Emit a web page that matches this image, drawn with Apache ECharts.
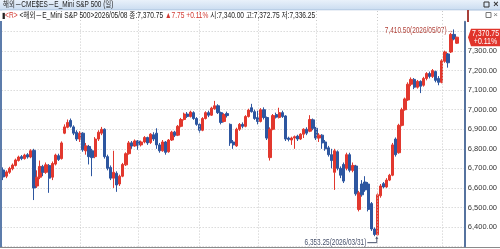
<!DOCTYPE html>
<html><head><meta charset="utf-8">
<script src="https://cdn.jsdelivr.net/npm/echarts@6/dist/echarts.min.js"></script>
<style>html,body{margin:0;padding:0;background:#fff;overflow:hidden}#c{width:500px;height:249px}</style>
</head><body><div id="c"></div>
<script>
const dates = [
'2025/10/06','2025/10/07','2025/10/08','2025/10/09','2025/10/10','2025/10/13','2025/10/14','2025/10/15','2025/10/16','2025/10/17',
'2025/10/20','2025/10/21','2025/10/22','2025/10/23','2025/10/24','2025/10/27','2025/10/28','2025/10/29','2025/10/30','2025/10/31',
'2025/11/03','2025/11/04','2025/11/05','2025/11/06','2025/11/07','2025/11/10','2025/11/11','2025/11/12','2025/11/13','2025/11/14',
'2025/11/17','2025/11/18','2025/11/19','2025/11/20','2025/11/21','2025/11/24','2025/11/25','2025/11/26','2025/11/28',
'2025/12/01','2025/12/02','2025/12/03','2025/12/04','2025/12/05','2025/12/08','2025/12/09','2025/12/10','2025/12/11','2025/12/12',
'2025/12/15','2025/12/16','2025/12/17','2025/12/18','2025/12/19','2025/12/22','2025/12/23','2025/12/24','2025/12/26','2025/12/29','2025/12/30','2025/12/31',
'2026/01/02','2026/01/05','2026/01/06','2026/01/07','2026/01/08','2026/01/09','2026/01/12','2026/01/13','2026/01/14','2026/01/15','2026/01/16',
'2026/01/20','2026/01/21','2026/01/22','2026/01/23','2026/01/26','2026/01/27','2026/01/28','2026/01/29','2026/01/30',
'2026/02/02','2026/02/03','2026/02/04','2026/02/05','2026/02/06','2026/02/09','2026/02/10','2026/02/11','2026/02/12','2026/02/13',
'2026/02/17','2026/02/18','2026/02/19','2026/02/20','2026/02/23','2026/02/24','2026/02/25','2026/02/26','2026/02/27',
'2026/03/02','2026/03/03','2026/03/04','2026/03/05','2026/03/06','2026/03/09','2026/03/10','2026/03/11','2026/03/12','2026/03/13',
'2026/03/16','2026/03/17','2026/03/18','2026/03/19','2026/03/20','2026/03/23','2026/03/24','2026/03/25','2026/03/26','2026/03/27','2026/03/30','2026/03/31',
'2026/04/01','2026/04/02','2026/04/06','2026/04/07','2026/04/08','2026/04/09','2026/04/10','2026/04/13','2026/04/14','2026/04/15',
'2026/04/16','2026/04/17','2026/04/20','2026/04/21','2026/04/22','2026/04/23','2026/04/24','2026/04/27','2026/04/28','2026/04/29','2026/04/30',
'2026/05/01','2026/05/04','2026/05/05','2026/05/06','2026/05/07','2026/05/08'];

const openP = [
6692,6660,6680,6698,6715,6740,6760,6750,6770,6758, 6792,6610,6655,6708,6680,6715,6655,6722,6765,6750,
6880,6910,6945,6912,6885,6850,6880,6790,6812,6790, 6760,6850,6880,6900,6760,6705,6650,6675,6620,6660,
6718,6775,6830,6815,6840,6820,6835,6858,6832,6872, 6880,6820,6790,6835,6785,6845,6885,6870,6915,6950,
6978,6965,6985,6955,6925,6895,6955,6985,6972,7005, 7020,6985,6940,6980,6925,6835,6815,6900,6925,6915,
6965,7010,6990,6960,6940,7000,6960,6755,6900,6975, 6960,6985,6968,6855,6845,6855,6865,6850,6875,6900,
6890,6948,6905,6855,6870,6835,6805,6770,6680,6785, 6700,6720,6700,6770,6690,6712,6490,6620,6630,6620,
6520,6390,6360,6560,6622,6605,6640,6665,6850,6780, 6920,7000,7050,7130,7155,7115,7145,7125,7160,7185,
7170,7195,7160,7140,7248,7285,7295,7385,7340];
const closeP = [
6656,6682,6700,6717,6743,6758,6750,6768,6758,6790, 6600,6655,6710,6680,6718,6650,6725,6768,6745,6830,
6912,6935,6915,6880,6850,6880,6795,6815,6760,6755, 6850,6885,6900,6760,6700,6650,6680,6615,6660,6720,
6775,6830,6815,6840,6820,6835,6858,6830,6875,6850, 6820,6790,6835,6782,6845,6885,6870,6915,6950,6978,
6965,6988,6955,6925,6895,6955,6985,6972,7008,7020, 6985,6935,6975,6970,6830,6820,6900,6925,6915,6965,
6998,6990,6955,6940,7000,6960,6855,6900,6970,6962, 6985,6965,6850,6848,6855,6862,6850,6875,6900,6880,
6950,6905,6855,6870,6830,6800,6770,6740,6790,6700, 6665,6635,6770,6690,6715,6570,6575,6565,6590,6490,
6390,6362,6565,6610,6605,6640,6665,6820,6770,6920, 7000,7055,7130,7155,7115,7145,7120,7160,7185,7170,
7200,7150,7140,7250,7295,7240,7385,7362,7370.75];
const lowP = [
6640,6650,6672,6690,6710,6735,6742,6745,6750,6752, 6538,6600,6645,6660,6672,6575,6640,6715,6738,6745,
6875,6905,6908,6870,6840,6835,6785,6770,6720,6660, 6752,6840,6870,6750,6690,6640,6600,6580,6610,6655,
6712,6770,6800,6810,6795,6812,6828,6820,6825,6840, 6800,6780,6785,6770,6780,6840,6860,6865,6910,6945,
6958,6960,6948,6918,6880,6890,6950,6962,6968,7000, 6978,6925,6935,6960,6815,6800,6810,6892,6905,6910,
6960,6985,6948,6925,6935,6950,6845,6740,6895,6955, 6955,6958,6840,6838,6820,6800,6840,6845,6855,6870,
6885,6895,6845,6835,6800,6790,6760,6700,6590,6690, 6650,6625,6690,6680,6680,6560,6480,6555,6580,6480,
6380,6353.25,6358,6550,6598,6600,6635,6660,6760,6775, 6915,6995,7045,7120,7105,7108,7085,7118,7150,7160,
7162,7140,7125,7135,7240,7215,7290,7355,7336.25];
const highP = [
6705,6690,6708,6725,6750,6765,6768,6775,6778,6798, 6800,6690,6740,6718,6730,6722,6735,6775,6775,6838,
6925,6950,6955,6920,6895,6890,6885,6830,6820,6800, 6860,6895,6912,6905,6770,6715,6790,6685,6668,6728,
6782,6840,6840,6848,6845,6842,6865,6862,6880,6885, 6905,6830,6845,6840,6850,6892,6892,6922,6958,6985,
6988,6995,6992,6962,6932,6962,6992,6995,7015,7045, 7028,6990,6982,6990,6930,6845,6908,6932,6935,6972,
7005,7030,7000,6995,7008,7012,6965,6910,6978,6985, 7010,6995,6972,6862,6862,6868,6872,6880,6905,6910,
6972,6955,6912,6880,6875,6845,6815,6800,6800,6792, 6710,6730,6780,6780,6730,6718,6585,6640,6660,6630,
6528,6398,6572,6620,6630,6650,6672,6830,6858,6928, 7010,7062,7140,7165,7162,7152,7150,7168,7192,7195,
7208,7200,7172,7258,7302,7290,7392,7410.5,7372.75];

const yMin = 6300, yMax = 7450, yStep = 100;
const yLabelRange = [6400, 7300];
const gridLineDates = ['2025/11/10','2025/12/08','2026/01/07','2026/02/04','2026/03/04','2026/04/01','2026/05/01'];
const highMark = { date: '2026/05/07', value: 7410.50 };
const lowMark = { date: '2026/03/31', value: 6353.25 };
const lastQuote = { date: '2026/05/08', close: 7370.75, change: 7.75, pct: 0.11, open: 7340.00, high: 7372.75, low: 7336.25 };
const titleText = '해외－CME$ES－E_Mini S&P 500 (일)';
const itemName = '해외－E_Mini S&P 500';

const UP = '#e2382e', DOWN = '#2d56a0';
const FONT = "'Liberation Sans','Noto Sans CJK KR',sans-serif";
const SQ = 0.76;  // horizontal squeeze for the narrow HTS font
const fmt = v => Number(v).toLocaleString('en-US', { minimumFractionDigits: 2, maximumFractionDigits: 2 });

const cats = dates.concat(['', ' ']);
const kData = dates.map((d, i) => [openP[i], closeP[i], lowP[i], highP[i]]);

const chart = echarts.init(document.getElementById('c'), null, { renderer: 'canvas' });
chart.setOption({
  animation: false,
  backgroundColor: '#ffffff',
  grid: { left: 1.65, right: 32, top: 21.7, bottom: 2.4, containLabel: false },
  xAxis: {
    type: 'category', data: cats, boundaryGap: true,
    axisLine: { show: false }, axisTick: { show: false }, axisLabel: { show: false }, splitLine: { show: false }
  },
  yAxis: {
    type: 'value', position: 'right', min: yMin, max: yMax, interval: yStep, scale: true,
    axisLine: { show: true, lineStyle: { color: '#56739f', width: 2 } },
    axisTick: { show: false },
    axisLabel: {
      margin: 3, fontSize: 7.5, color: '#333', fontFamily: FONT,
      formatter: v => (v >= yLabelRange[0] && v <= yLabelRange[1]) ? fmt(v) : ''
    },
    splitLine: { show: true, lineStyle: { color: '#c9c9c9', type: [1, 2], width: 1 } }
  },
  series: [{
    type: 'candlestick', data: kData, barWidth: 2.8,
    itemStyle: { color: UP, color0: DOWN, borderColor: UP, borderColor0: DOWN, borderWidth: 1 },
    markLine: {
      silent: true, symbol: 'none', animation: false,
      label: { show: false },
      lineStyle: { color: '#c9c9c9', type: [1, 2], width: 1 },
      data: gridLineDates.map(d => ({ xAxis: d }))
    }
  }]
});

const hp = chart.convertToPixel({ seriesIndex: 0 }, [highMark.date, highMark.value]);
const lp = chart.convertToPixel({ seriesIndex: 0 }, [lowMark.date, lowMark.value]);
const cp = chart.convertToPixel({ seriesIndex: 0 }, [lastQuote.date, lastQuote.close]);
const axisX = 468;
const sign = lastQuote.change >= 0 ? '+' : '-';

const headerGridSegs = gridLineDates.map(d => {
  const gx = Math.round(chart.convertToPixel({ xAxisIndex: 0 }, d)) + 0.5;
  return { type: 'line', shape: { x1: gx, y1: 11, x2: gx, y2: 23 }, style: { stroke: '#c9c9c9', lineWidth: 1, lineDash: [1, 2] } };
});

chart.setOption({
  graphic: [
    // header row 1
    { type: 'rect', shape: { x: 0, y: 0, width: 500, height: 10 },
      style: { fill: new echarts.graphic.LinearGradient(0, 0, 0, 1, [{ offset: 0, color: '#e9f1fa' }, { offset: 1, color: '#cadcf0' }]) } },
    { type: 'line', shape: { x1: 0, y1: 10, x2: 500, y2: 10 }, style: { stroke: '#a9c0dc', lineWidth: 1 } },
    { type: 'text', x: 3, y: 5, scaleX: SQ, style: { text: titleText, font: '8.5px ' + FONT, fill: '#1c1c1c', verticalAlign: 'middle' } },
    { type: 'rect', shape: { x: 484, y: 2, width: 5, height: 5 }, style: { fill: 'none', stroke: '#333', lineWidth: 1 } },
    { type: 'text', x: 496, y: 5, style: { text: '×', font: 'bold 9px ' + FONT, fill: '#333', align: 'center', verticalAlign: 'middle' } },
    // header row 2 (white band hides the top boundary grid line)
    { type: 'rect', shape: { x: 2, y: 10.5, width: axisX - 3, height: 12 }, style: { fill: '#ffffff' } },
    ...headerGridSegs,
    { type: 'text', x: 2, y: 15.5, scaleX: 0.78, style: {
        text: '{b|▮}{r|<R>}{k| <' + itemName + '>' + lastQuote.date + ' 종:' + fmt(lastQuote.close) + ' }{r|▲' + lastQuote.change.toFixed(2) + ' ' + sign + lastQuote.pct.toFixed(2) + '%}{k| 시:' + fmt(lastQuote.open) + ' 고:' + fmt(lastQuote.high) + ' 저:' + fmt(lastQuote.low) + '}',
        verticalAlign: 'middle',
        rich: {
          b: { font: '8px ' + FONT, fill: '#222' },
          r: { font: '8.5px ' + FONT, fill: '#d23a32' },
          k: { font: '8.5px ' + FONT, fill: '#222' }
        } } },
    { type: 'line', shape: { x1: axisX, y1: 10, x2: axisX, y2: 22 }, style: { stroke: '#a8403a', lineWidth: 2 } },
    { type: 'rect', shape: { x: 486, y: 12.5, width: 5, height: 5 }, style: { fill: 'none', stroke: '#777', lineWidth: 1 } },
    { type: 'text', x: 495.5, y: 15, style: { text: '×', font: '8px ' + FONT, fill: '#777', align: 'center', verticalAlign: 'middle' } },
    // left border + bottom border
    { type: 'line', shape: { x1: 1, y1: 21, x2: 1, y2: 247 }, style: { stroke: '#5c7cab', lineWidth: 2 } },
    { type: 'line', shape: { x1: 0, y1: 247.5, x2: 500, y2: 247.5 }, style: { stroke: '#8a8a8a', lineWidth: 1 } },
    // high annotation
    { type: 'text', x: hp[0] - 1, y: hp[1] + 1, scaleX: SQ, style: { text: fmt(highMark.value) + '(' + highMark.date + ')→', font: '8.5px ' + FONT, fill: '#b2433b', align: 'right', verticalAlign: 'middle' } },
    // low annotation
    { type: 'text', x: lp[0] - 8, y: lp[1] + 6, scaleX: SQ, style: { text: fmt(lowMark.value) + '(' + lowMark.date + ')', font: '8.5px ' + FONT, fill: '#46506a', align: 'right', verticalAlign: 'middle' } },
    { type: 'polyline', shape: { points: [[lp[0] - 7, lp[1] + 6.5], [lp[0] + 2.5, lp[1] + 6.5], [lp[0] + 2.5, lp[1] + 1]] }, style: { stroke: '#46506a', lineWidth: 1, fill: 'none' } },
    { type: 'polygon', shape: { points: [[lp[0] + 1, lp[1] + 2.5], [lp[0] + 4, lp[1] + 2.5], [lp[0] + 2.5, lp[1] + 0]] }, style: { fill: '#46506a' } },
    // last price tag
    { type: 'polygon', shape: { points: [[axisX, cp[1]], [axisX + 3, cp[1] - 8.5], [500, cp[1] - 8.5], [500, cp[1] + 9], [axisX + 3, cp[1] + 9]] }, style: { fill: '#e0342b' } },
    { type: 'text', x: 485.5, y: cp[1] - 4, scaleX: 0.82, style: { text: fmt(lastQuote.close), font: '8.5px ' + FONT, fill: '#fff', align: 'center', verticalAlign: 'middle' } },
    { type: 'text', x: 485.5, y: cp[1] + 4.5, scaleX: 0.82, style: { text: sign + lastQuote.pct.toFixed(2) + '%', font: '8.5px ' + FONT, fill: '#fff', align: 'center', verticalAlign: 'middle' } }
  ]
});
</script></body></html>
